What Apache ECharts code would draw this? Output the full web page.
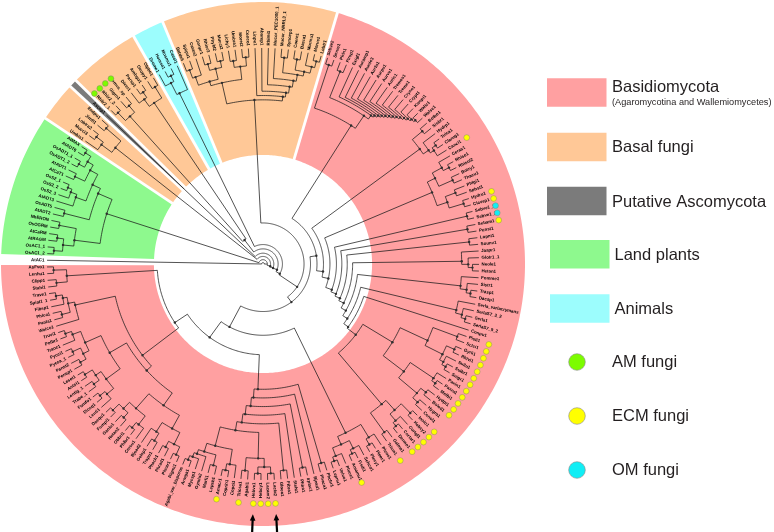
<!DOCTYPE html>
<html>
<head>
<meta charset="utf-8">
<title>Circular phylogeny</title>
<script src="https://cdn.jsdelivr.net/npm/echarts@6/dist/echarts.min.js"></script>
<style>
html,body{margin:0;padding:0;background:#ffffff;}
#chart{width:774px;height:532px;}
</style>
</head>
<body>
<div id="chart"></div>
<script>
// ================= DATA =================
// Clades in Newick form: leaf names; the number after ')' is the node depth
// (percent of the root-to-tip distance); '#tag' marks the taxonomic group.
const basalTopA   = "((((Batde5,Spipu1)96,Catan2)92,((Gonpr1,Rhior3)96,(Phybl2,Mucci2)96)93)88,((Lichy1,Umbra1)95,(Morel2,Conco1)96)92)86";
const basalTopB   = "(Linpe1,(Absrep1,(Rhimi1,(Mucor_PEC1000_1,((Mucor_NRRL3_1,Syncep1)96,((Coere1,Basra1)96,(Mormu1,(Morve1,Lobtr1)97)94)91)89)86)83)80)78";
const basalLeftA  = "((Umbis1,(Mucci3,Lobtra2)97)93,(Jimfl1,Endpu1)96)87";
const basalLeftB  = "(((Rhiir2_1,Rhiir2_2)97,(Gigro1,Glomus_sp)96)92,((Diver1,(Parsp1,Ambgo1)97)94,(Geopy1,Olpbo1)96)90)14";
const animalClade = "((Drome1,(Homsa1,Musmu1)97)94,Caeel1)88";
const plantCladeA = "(((OsAC1_2,OsAC1_1)97,(AtRAGM,AtCaRM)96)93,(OsOGRM,NbERON)96)88";
const plantCladeB = "((AtADT2,OsADT5)95,((AtADT3,(OsS2_3,(OsS2_2,OsS2_1)97)95)92,((AtCaT1,AtADT1)96,((OsADT1_2,OsADT1_1)97,(AtADT6,AtMAX)97)94)91)87)83";

const basidioP1   = "((Sebve2,Serve1)97,((Pirin1,Pirsp1)96,(Exigl1,(Auramp1,(Aurde3,(Aurfo1,(Aurpu1,(Aurve1,(Auric1,(Tremes1,(Treme1,(Cryne1,(Crypt1,(Kwopi1,(Walic1,Walse1)97)96)95)94)93)92)91)90)89)88)87)86)85)83)76";
const basidioP2   = "((Botbo1,Sisbr1)96,(Hydrp1,((Tulca1,Clarug1)97,Canci1)95)93)90";
const basidioP3   = "(((Ceras1,(Rhiso1,Rhisol2)97)94,(Botry1,Thacu1)96)89,((Phlgi1,Sphst1)95,(Hydru1,Clavsp1)97)90)85";
const basidioSeb  = "(Sebve1_1,Sebve1_2)97";
const basidioPr2  = "(Sebam1,Punst1)96";
const basidioPr3  = "(Lopni1,Sounv1)96";
const basidioQ4a  = "(Jaapr1,(Glotr1_1,(Neole1,Hetan1)97)95)92";
const basidioQ4b  = "(Fomme1,(Sistr1,(Trasp1,Dacsp1)97)95)92";
const basidioSerl = "(Serla_varlacrymans,(SerlaS7_3_2,(Serla1,SerlaS7_9_2)97)95)92";
const boletA      = "((Pisti1,Sclci1)96,((Gyrli1,Rhivi1)97,(Suilu1,(Suibr1,Suigr1)97)95)93)84";
const boletB      = "((Paxin1,(Paxru1,Melbi1)97)95,((Hydpi1,Boled1)96,(Hygro1,Conol1)96)93)82";
const agaricA     = "(((Inolo1,Hebcy2)97,(Cortgl1,(Cortar1,Dermo1)97)95)91,(Galma1,Tricm1)96)85";
const agaricMid   = "((Pleos1,(Pleer1,Plecy1)97)94,((Schco1,(Fisdi1,Amamu1)97)95,(Pluce1,(Volvo1,Lepnu1)97)95)91)87";
const bottomR1    = "(Phchr1,Phaca1)96";
const bottomR3    = "(Irplac1,Phlra1)96";
const bottomR5    = "(Fibra1,Gloeo1)96";
const bottomG1    = "(((Lacbi2,Lacam2)97,(Hebcy1,Hebve1)97)94,(Agabi1,Tricsa1)96)90";
const bottomG2    = "((Copci1,(Coprin1,Amacr1)97)94,((Lepsh1,Marfi1)96,(Gymlu2,(Mycsp1,(Armga1,Agabi_var_bisporus)97)95)93)91)87";
const polyLA      = "(((Rigmi1,Phcar1)97,(Phrad1,Phach1)96)93,((Trapu1,Gelsp1)96,Bjead2)92)87";
const polyLB      = "((Cersu1,(Phlbr1,Obbri1)97)94,((Hetan2,Ganlu1)96,(Fompi1,Daequ1)97)93)89";
const polyLC      = "((Lenti1,(Dicsq1,Fomfo1)97)94,((Trabe_1,Lentig_1)96,(Antsi1,Leset1)97)93)90";
const polyLD      = "(((Ponsp1,Panst2)96,(Pycsa_1,Pycci1)97)93,(Traoc1,(Polbr1,Truvi1)97)94)90";
const polyLeft2   = "(Wolco1,((Panla1,Phlca1)96,(Fibsp1,(Spiat1_1,Trave1)97)94)92)89";
const polyLeft3   = "((Stahi1,Clipp1)96,(Lenhu1,AsFvo1)97)91";

// Trophic markers
const amFungi  = ["Rhiir2_1","Rhiir2_2","Gigro1","Glomus_sp"];
const ecmFungi = ["Canci1","Hydru1","Clavsp1","Sebam1",
  "Pisti1","Sclci1","Gyrli1","Rhivi1","Suilu1","Suibr1","Suigr1","Paxin1","Paxru1","Melbi1","Hydpi1","Boled1",
  "Inolo1","Hebcy2","Cortgl1","Cortar1","Dermo1","Tricm1","Amamu1",
  "Lacbi2","Lacam2","Hebcy1","Hebve1","Tricsa1","Amacr1"];
const omFungi  = ["Sebve1_1","Sebve1_2"];
const arrowedTaxa = ["Lacbi2","Hebve1"];

// Legend texts
const legendGroups    = ["Basidiomycota","Basal fungi","Putative Ascomycota","Land plants","Animals"];
const legendGroupNote = "(Agaromycotina and Wallemiomycetes)";
const legendDots      = ["AM fungi","ECM fungi","OM fungi"];

// ================= TREE ASSEMBLY =================
const basalTop   = "(" + basalTopA + "," + basalTopB + ")76";
const plants     = "(" + plantCladeA + "," + plantCladeB + ")76";
const bolet      = "(" + boletA + "," + boletB + ")70";
const partA = "(" + basidioP1 + ",(" + basidioP2 + ",(" + basidioP3 + ",(" + basidioSeb + ",(" + basidioPr2 + ",(" + basidioPr3 +
  ",(" + basidioQ4a + ",(" + basidioQ4b + ",(" + basidioSerl + ",(Conpu1,(" + bolet + "," + agaricA + ")54)49)46.5)44)41.5)39)36.5)34)31)28)25";
const bottom = "(" + bottomR1 + ",(Bjead1,(" + bottomR3 + ",(Stehi1,(" + bottomR5 + ",(" + bottomG1 + "," + bottomG2 + ")78)74)70)66)62)58";
const polyLeft1 = "((" + polyLA + "," + polyLB + ")80,(" + polyLC + "," + polyLD + ")82)73";
const partB = "(" + agaricMid + ",(" + bottom + ",((" + polyLeft1 + "," + polyLeft2 + ")70," + polyLeft3 + ")49)42)33";
const basidio = "(" + partA + "," + partB + ")22";
const treeNewick = "(AtAC1#none,(" + plants + "#plants,(" + basalLeftA + "#basal,(Ascsp1#asco,(" + basalLeftB + "#basal,(" +
  animalClade + "#animal,(" + basalTop + "#basal," + basidio + ")19)9)7)5)3.5)2)0.6";

function parseNewick(str){
  const s = str.replace(/\s+/g,'');
  let i = 0;
  function readTag(n){
    if (s[i] === '#'){ i++; let t=''; while(i<s.length && /[a-z]/i.test(s[i])) t+=s[i++]; n.group=t; }
  }
  function node(){
    let n;
    if (s[i] === '('){
      i++;
      const kids=[];
      for(;;){
        kids.push(node());
        if (s[i]===','){ i++; continue; }
        if (s[i]===')'){ i++; break; }
        throw new Error('Newick error at '+i+': '+s.slice(Math.max(0,i-15),i+15));
      }
      let num='';
      while(i<s.length && /[0-9.]/.test(s[i])) num+=s[i++];
      n = {children:kids, depth:parseFloat(num)};
    } else {
      let name='';
      while(i<s.length && !/[,()#]/.test(s[i])) name+=s[i++];
      n = {name:name, depth:100};
    }
    readTag(n);
    return n;
  }
  return node();
}

const root = parseNewick(treeNewick);
const leaves = [], internals = [];
(function walk(n, grp){
  n.group = n.group || grp;
  if (!n.children){ n.idx = leaves.length; leaves.push(n); n.sum = n.idx; n.cnt = 1; }
  else { n.sum = 0; n.cnt = 0; n.children.forEach(c => { walk(c, n.group); n.sum += c.sum; n.cnt += c.cnt; }); internals.push(n); }
  n.pos = n.sum / n.cnt;
})(root, 'basidio');

const N = leaves.length;
const step = 360 / N;
const startAngle = 179.9;           // orientation of the first tip boundary (degrees)
const angleOf = p => startAngle - (p + 0.5) * step;

const runs = [];
leaves.forEach(l => {
  const last = runs[runs.length-1];
  if (last && last.group === l.group) last.last = l.idx;
  else runs.push({group:l.group, first:l.idx, last:l.idx});
});

// ================= STYLE =================
const groupColor = {basidio:'#FFA0A1', basal:'#FFC897', asco:'#7B7B7B', plants:'#8EF98E', animal:'#9CFDFD'};
const legendKeys = ['basidio','basal','asco','plants','animal'];
const dotStyles  = [[amFungi,'#7CFC00'],[ecmFungi,'#FFFF00'],[omFungi,'#11EEF5']];
const R_OUT = 121.3, R_IN = 50.5, LABEL_R = 101.2, DOT_R = 111;
const lineCol = '#1a1a1a';

function renderTree(params, api){
  const norm = a => ((a % 360) + 360) % 360;
  const P = (r, a) => api.coord([r, norm(a)]);
  const arc = (r, a1, a2) => {
    const n = Math.max(2, Math.ceil(Math.abs(a2 - a1) / 0.8) + 1);
    const out = [];
    for (let i = 0; i < n; i++) out.push(P(r, a1 + (a2 - a1) * i / (n - 1)));
    return out;
  };
  const els = [];
  // coloured sectors
  runs.forEach(run => {
    const col = groupColor[run.group];
    if (!col) return;
    const a1 = startAngle - run.first * step, a2 = startAngle - (run.last + 1) * step;
    els.push({type:'polygon', shape:{points: arc(R_OUT, a1, a2).concat(arc(R_IN, a2, a1))}, style:{fill: col, stroke:'none'}});
  });
  // white separators
  runs.forEach(run => {
    const a = startAngle - run.first * step;
    const p1 = P(R_IN - 0.3, a), p2 = P(R_OUT + 0.5, a);
    els.push({type:'line', shape:{x1:p1[0], y1:p1[1], x2:p2[0], y2:p2[1]}, style:{stroke:'#ffffff', lineWidth:2.8, fill:'none'}});
  });
  // branches
  internals.forEach(n => {
    const angs = n.children.map(c => angleOf(c.pos));
    const amin = Math.min.apply(null, angs), amax = Math.max.apply(null, angs);
    els.push({type:'polyline', shape:{points: arc(n.depth, amax, amin)}, style:{stroke: lineCol, lineWidth: 0.75, fill:'none'}});
    n.children.forEach((c, j) => {
      const p1 = P(n.depth, angs[j]), p2 = P(c.depth, angs[j]);
      els.push({type:'line', shape:{x1:p1[0], y1:p1[1], x2:p2[0], y2:p2[1]}, style:{stroke: lineCol, lineWidth: 0.75, fill:'none'}});
    });
  });
  // node markers
  internals.forEach(n => {
    if (n.depth < 3) return;
    const p = P(n.depth, angleOf(n.pos));
    els.push({type:'circle', shape:{cx:p[0], cy:p[1], r:1.2}, style:{fill:'#2e2e2e', stroke:'none'}});
  });
  // tip labels
  leaves.forEach(l => {
    const a = angleOf(l.idx);
    const an = ((a % 360) + 540) % 360 - 180;
    const right = Math.abs(an) <= 90;
    const rot = right ? an : (an > 0 ? an - 180 : an + 180);
    const p = P(LABEL_R, a);
    els.push({type:'text', x:p[0], y:p[1], rotation: rot * Math.PI / 180,
      style:{text:l.name, fontSize:4.4, fontWeight:'bold', fontFamily:'"Liberation Sans", Arial, sans-serif', fill:'#000000',
             align: right ? 'left' : 'right', verticalAlign:'middle'}});
  });
  // trophic dots
  const byName = {};
  leaves.forEach(l => byName[l.name] = l);
  dotStyles.forEach(ds => {
    ds[0].forEach(name => {
      const l = byName[name]; if (!l) return;
      const p = P(DOT_R, angleOf(l.idx));
      els.push({type:'circle', shape:{cx:p[0], cy:p[1], r:2.9}, style:{fill:ds[1], stroke:'#8a8a6a', lineWidth:0.5}});
    });
  });
  // arrows
  arrowedTaxa.forEach(name => {
    const l = byName[name]; if (!l) return;
    const a = angleOf(l.idx);
    const t = P(124.8, a), b = P(118.4, a), tip = P(115.9, a), hb = P(118.9, a);
    els.push({type:'line', shape:{x1:t[0], y1:t[1], x2:b[0], y2:b[1]}, style:{stroke:'#000', lineWidth:2.2, fill:'none'}});
    const dx = tip[0]-hb[0], dy = tip[1]-hb[1], L = Math.hypot(dx, dy) || 1;
    const px = -dy / L * 2.8, py = dx / L * 2.8;
    els.push({type:'polygon', shape:{points:[[tip[0],tip[1]],[hb[0]+px,hb[1]+py],[hb[0]-px,hb[1]-py]]}, style:{fill:'#000', stroke:'none'}});
  });
  return {type:'group', children: els};
}

// ================= LEGEND (graphic) =================
const legendFont = '"Liberation Sans", Arial, sans-serif';
const rectX = [547, 547, 547, 550, 550];
const rectY = [78.3, 132.7, 186.7, 240, 294.3];
const textX = [612, 612, 612, 614.5, 614.5];
const textY = [87, 147.5, 202, 255.5, 309.5];
const graphics = [];
legendGroups.forEach((name, i) => {
  graphics.push({type:'rect', left:rectX[i], top:rectY[i], shape:{width:59.5, height:28.5}, style:{fill: groupColor[legendKeys[i]]}, silent:true});
  graphics.push({type:'text', x:textX[i], y:textY[i], style:{text:name, font:'16.5px ' + legendFont, fill:'#231f20', textVerticalAlign:'middle', verticalAlign:'middle'}, silent:true});
});
graphics.push({type:'text', x:612, y:102.5, style:{text:legendGroupNote, font:'9.2px ' + legendFont, fill:'#231f20', verticalAlign:'middle', textVerticalAlign:'middle'}, silent:true});
const dotY = [362, 416, 470];
legendDots.forEach((name, i) => {
  graphics.push({type:'circle', shape:{cx:577, cy:dotY[i], r:8.3}, style:{fill: dotStyles[i][1], stroke:'#8a8a8a', lineWidth:0.6}, silent:true});
  graphics.push({type:'text', x:612, y:dotY[i], style:{text:name, font:'16.5px ' + legendFont, fill:'#231f20', verticalAlign:'middle', textVerticalAlign:'middle'}, silent:true});
});

// ================= CHART =================
const chart = echarts.init(document.getElementById('chart'), null, {renderer:'canvas', width:774, height:532});
chart.setOption({
  animation: false,
  backgroundColor: '#ffffff',
  polar: {center:[263, 264], radius: 262},
  angleAxis: {type:'value', min:0, max:360, startAngle:0, clockwise:false, show:false,
              axisLine:{show:false}, axisLabel:{show:false}, axisTick:{show:false}, splitLine:{show:false}},
  radiusAxis: {type:'value', min:0, max:R_OUT, show:false,
               axisLine:{show:false}, axisLabel:{show:false}, axisTick:{show:false}, splitLine:{show:false}},
  series: [{
    type:'custom', coordinateSystem:'polar', data:[[0, 0]], renderItem: renderTree,
    silent:true, clip:false, animation:false
  }],
  graphic: graphics
});
</script>
</body>
</html>
